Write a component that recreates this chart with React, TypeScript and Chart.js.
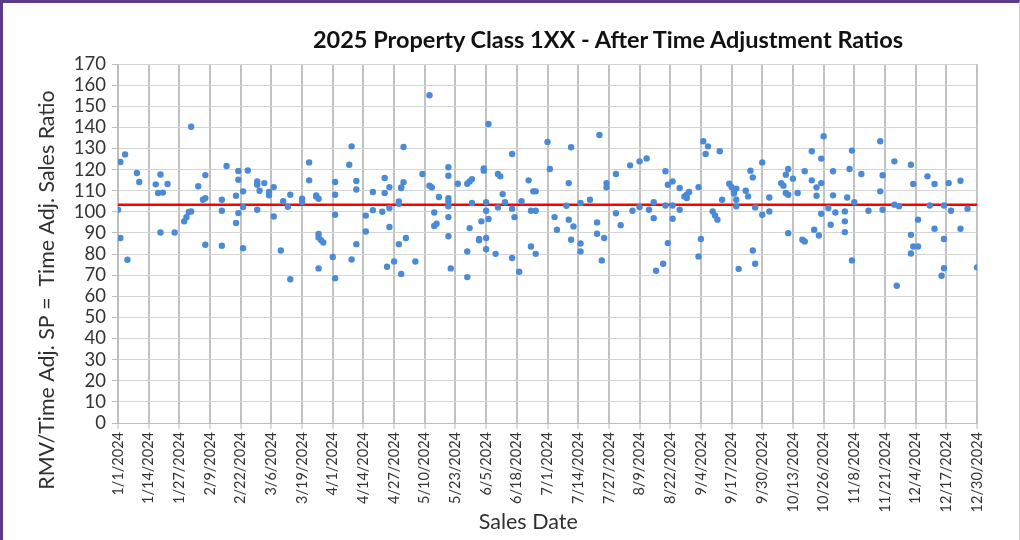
import React, { useEffect, useRef } from "react";
import { Chart, registerables } from "chart.js";

Chart.register(...registerables);

const chartTitle = "2025 Property Class 1XX - After Time Adjustment Ratios";
const xAxisTitle = "Sales Date";
const yAxisTitle = "RMV/Time Adj. SP =  Time Adj. Sales Ratio";

// x tick labels, one every 13 days starting 1/1/2024
const dateTicks = [
  "1/1/2024", "1/14/2024", "1/27/2024", "2/9/2024", "2/22/2024", "3/6/2024",
  "3/19/2024", "4/1/2024", "4/14/2024", "4/27/2024", "5/10/2024", "5/23/2024",
  "6/5/2024", "6/18/2024", "7/1/2024", "7/14/2024", "7/27/2024", "8/9/2024",
  "8/22/2024", "9/4/2024", "9/17/2024", "9/30/2024", "10/13/2024", "10/26/2024",
  "11/8/2024", "11/21/2024", "12/4/2024", "12/17/2024", "12/30/2024",
];
const dayStep = 13;
const lastDay = 364;

// sale date, as days after 1/1/2024 (first half of the year)
const saleDayH1 = [
  0, 1, 3, 1, 4, 8, 9, 16, 18, 17, 19, 21, 18, 24, 31, 28, 29, 30, 31, 34,
  37, 36, 37, 37, 44, 44, 44, 46, 50, 51, 51, 50, 51, 53, 53, 53, 55, 59, 59, 59,
  60, 62, 64, 64, 66, 66, 69, 70, 72, 73, 73, 78, 78, 81, 81, 84, 84, 85, 85, 85,
  86, 87, 85, 91, 92, 92, 92, 92, 98, 99, 99, 101, 101, 101, 105, 105, 108, 108, 112, 113,
  113, 115, 115, 115, 114, 117, 119, 119, 120, 120, 121, 121, 119, 122, 120, 126, 129, 132, 132, 133,
  134, 136, 134, 135, 140, 140, 140, 140, 140, 140, 140, 141, 144, 148, 149, 150, 150, 149, 148, 148,
  153, 154, 156, 157, 153, 155, 155, 157, 156, 156, 156, 160, 161, 162, 163, 164, 161, 167, 167, 168,
  167, 170, 171, 174, 176, 177, 175, 177, 175, 177, 182, 183,
];
// time adjusted sales ratio (first half of the year)
const ratioH1 = [
  101.0, 123.6, 127.2, 87.6, 77.3, 118.4, 114.1, 113.0, 117.7, 108.9, 109.1, 113.2, 90.2, 90.2, 140.3, 95.5, 97.4, 99.9, 100.2, 112.1,
  117.4, 105.7, 106.5, 84.4, 83.9, 105.7, 100.5, 121.7, 107.6, 119.3, 115.2, 94.7, 99.4, 102.3, 82.8, 109.7, 119.6, 101.0, 112.8, 114.4,
  110.0, 113.6, 109.4, 107.8, 111.7, 97.8, 81.7, 105.0, 102.4, 108.1, 68.1, 106.2, 104.6, 123.4, 114.9, 107.8, 107.2, 106.2, 89.5, 87.9,
  86.6, 85.5, 73.2, 78.6, 68.6, 98.6, 114.1, 108.1, 122.3, 131.0, 77.4, 114.6, 110.6, 84.7, 98.2, 90.7, 109.4, 100.8, 100.0, 116.0,
  108.9, 111.7, 101.8, 92.8, 74.0, 76.5, 103.8, 104.9, 111.3, 111.6, 114.0, 130.7, 84.7, 87.6, 70.6, 76.5, 117.9, 155.2, 112.4, 111.6,
  99.7, 107.0, 93.3, 94.4, 121.1, 117.1, 106.5, 105.0, 102.6, 97.5, 88.4, 73.2, 113.3, 113.3, 114.4, 115.5, 104.2, 92.3, 81.2, 69.1,
  86.5, 95.5, 87.6, 96.6, 87.2, 120.5, 119.5, 141.6, 104.6, 100.5, 82.3, 80.1, 117.9, 116.8, 108.4, 104.5, 102.1, 127.4, 101.5, 97.5,
  78.1, 71.6, 105.0, 114.9, 109.7, 109.7, 100.5, 100.5, 83.6, 80.1, 133.1, 120.3,
];

// sale date, as days after 1/1/2024 (second half of the year)
const saleDayH2 = [
  185, 186, 190, 191, 191, 193, 192, 192, 196, 196, 196, 200, 203, 203, 204, 206, 205, 207, 207, 211,
  211, 213, 217, 218, 221, 221, 224, 225, 227, 227, 228, 231, 232, 233, 235, 232, 235, 233, 235, 238,
  238, 240, 241, 242, 241, 246, 246, 247, 248, 250, 249, 252, 253, 254, 255, 256, 259, 260, 261, 262,
  261, 262, 262, 263, 266, 267, 268, 269, 270, 269, 270, 273, 273, 276, 276, 281, 282, 283, 284, 283,
  284, 284, 286, 288, 290, 291, 291, 294, 294, 296, 296, 295, 297, 298, 298, 299, 298, 301, 303, 303,
  302, 304, 308, 308, 308, 309, 310, 311, 312, 311, 315, 318, 323, 323, 324, 324, 329, 329, 331, 330,
  336, 337, 339, 336, 337, 339, 336, 343, 346, 344, 346, 350, 350, 350, 349, 352, 353, 357, 357, 360,
  364,
];
// time adjusted sales ratio (second half of the year)
const ratioH2 = [
  97.5, 91.5, 102.9, 113.6, 96.3, 93.1, 130.6, 86.8, 104.2, 85.0, 81.2, 105.7, 95.0, 89.6, 136.4, 87.6, 77.0, 113.6, 111.6, 117.9,
  99.3, 93.7, 122.0, 100.5, 123.9, 102.3, 125.3, 101.0, 104.5, 97.0, 72.1, 75.4, 119.2, 112.8, 114.4, 103.0, 103.0, 85.2, 96.7, 111.3,
  101.0, 107.3, 108.1, 109.4, 106.5, 111.7, 78.9, 87.1, 133.4, 131.0, 127.4, 100.2, 98.3, 96.3, 128.7, 105.7, 113.3, 111.7, 109.7, 111.0,
  108.7, 105.7, 102.6, 73.0, 110.0, 107.3, 119.5, 116.3, 102.1, 81.7, 75.4, 98.6, 123.4, 100.2, 106.8, 113.6, 112.4, 117.6, 120.3, 108.9,
  108.1, 89.9, 115.7, 108.9, 86.8, 86.0, 119.2, 128.7, 114.9, 111.6, 107.6, 91.5, 88.8, 113.6, 125.2, 135.8, 99.1, 101.8, 119.2, 107.8,
  93.9, 99.7, 100.2, 95.5, 90.4, 106.8, 120.3, 129.0, 104.6, 77.0, 117.9, 100.5, 133.4, 109.7, 117.3, 101.0, 123.9, 103.4, 102.6, 65.0,
  122.3, 113.2, 96.3, 89.1, 83.6, 83.6, 80.3, 116.8, 113.2, 103.0, 92.0, 103.0, 87.1, 73.3, 69.7, 113.6, 100.5, 114.7, 92.0, 101.5,
  73.7,
];

// reference ratio (red line)
const referenceRatio = 103.3;

const yMin = 0;
const yMax = 170;
const yStep = 10;

export default function App() {
  const canvasRef = useRef<HTMLCanvasElement | null>(null);

  useEffect(() => {
    document.body.style.margin = "0";
    const canvas = canvasRef.current;
    if (!canvas) return;

    const days = [...saleDayH1, ...saleDayH2];
    const ratios = [...ratioH1, ...ratioH2];
    const points = days.map((d, i) => ({ x: d, y: ratios[i] }));

    const chart = new Chart(canvas, {
      type: "scatter",
      data: {
        datasets: [
          {
            type: "scatter",
            label: "Ratio",
            data: points,
            backgroundColor: "#4a8ad6",
            borderColor: "#4a8ad6",
            pointRadius: 3.2,
            pointBorderWidth: 0,
            order: 0,
          },
          {
            type: "line",
            label: "Reference",
            data: [
              { x: 0, y: referenceRatio },
              { x: lastDay, y: referenceRatio },
            ],
            borderColor: "#ff0000",
            borderWidth: 2.5,
            pointRadius: 0,
            fill: false,
            order: 1,
          },
        ],
      },
      options: {
        animation: false,
        responsive: false,
        maintainAspectRatio: false,
        devicePixelRatio: 1,
        layout: { padding: { top: 64, right: 43, left: 0, bottom: 0 } },
        plugins: {
          legend: { display: false },
          tooltip: { enabled: false },
          title: { display: false },
        },
        scales: {
          x: {
            type: "linear",
            min: 0,
            max: lastDay,
            afterFit: (s: any) => {
              s.height = 117;
            },
            ticks: {
              stepSize: dayStep,
              autoSkip: false,
              maxRotation: 90,
              minRotation: 90,
              padding: 3,
              color: "#333333",
              font: { family: "Lato", size: 14.5 },
              callback: (v: any) => dateTicks[Math.round(Number(v) / dayStep)] ?? "",
            },
            grid: {
              color: "#c2c2c2",
              lineWidth: 2,
              tickLength: 6,
              tickColor: "#bdbdbd",
              tickWidth: 1,
            },
            border: { color: "#bdbdbd", width: 1 },
            title: {
              display: true,
              text: xAxisTitle + " ".repeat(7),
              color: "#303030",
              font: { family: "Lato", size: 21.5 },
              padding: { top: 0, bottom: 5 },
            },
          },
          y: {
            type: "linear",
            min: yMin,
            max: yMax,
            afterFit: (s: any) => {
              s.width = 118;
            },
            ticks: {
              stepSize: yStep,
              autoSkip: false,
              padding: 6,
              color: "#333333",
              font: { family: "Lato", size: 18.5 },
            },
            grid: {
              color: "#d4d4d4",
              lineWidth: 1,
              tickLength: 6,
              tickColor: "#bdbdbd",
            },
            border: { color: "#bdbdbd", width: 1 },
            title: {
              display: true,
              text: yAxisTitle + " ".repeat(17),
              color: "#303030",
              font: { family: "Lato", size: 21.4 },
              padding: { top: 34, bottom: 0 },
            },
          },
        },
      },
    });

    return () => chart.destroy();
  }, []);

  return (
    <div style={{ position: "relative", width: 1020, height: 540, background: "#ffffff", overflow: "hidden" }}>
      <canvas ref={canvasRef} width={1020} height={540} style={{ position: "absolute", left: 0, top: 0 }} />
      <div
        style={{
          position: "absolute",
          left: 608,
          top: 25,
          transform: "translateX(-50%)",
          whiteSpace: "nowrap",
          fontFamily: "Lato, sans-serif",
          fontWeight: 700,
          fontSize: 23.5,
          lineHeight: "28px",
          color: "#111111",
        }}
      >
        {chartTitle}
      </div>
      <div
        style={{
          position: "absolute",
          inset: 0,
          borderTop: "3px solid #5b3a8a",
          borderLeft: "3px solid #5b3a8a",
          borderRight: "1px solid #cfcfcf",
          pointerEvents: "none",
        }}
      />
    </div>
  );
}
